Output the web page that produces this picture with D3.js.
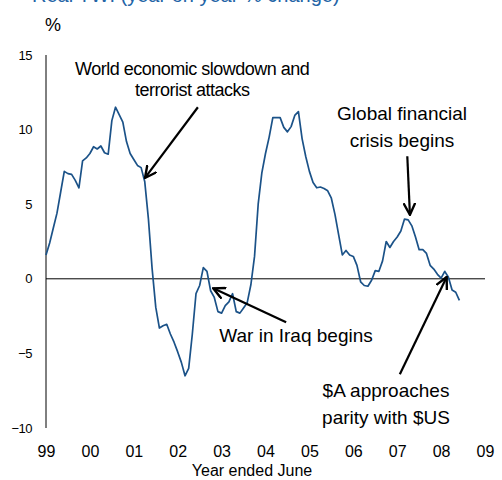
<!DOCTYPE html>
<html>
<head>
<meta charset="utf-8">
<script src="https://cdn.jsdelivr.net/npm/d3@7"></script>
<style>
  html, body { margin: 0; padding: 0; background: #fff; }
  svg { display: block; font-family: "Liberation Sans", Arial, sans-serif; }
</style>
</head>
<body>
<svg id="chart" width="502" height="480"></svg>
<script>
// ---- data ----
const titleText = "Real TWI (year on year % change)";
const unitLabel = "%";
const xAxisTitle = "Year ended June";
const startYear = 1999;             // first monthly observation: Jan 1999
const values = [
  1.6, 2.4, 3.4, 4.4, 5.8, 7.2, 7.05, 7.0, 6.6, 6.1,
  7.9, 8.1, 8.4, 8.85, 8.7, 8.9, 8.45, 8.35, 10.6, 11.5,
  11.0, 10.5, 9.2, 8.4, 8.0, 7.6, 7.45, 6.5, 4.0, 0.7,
  -1.9, -3.3, -3.15, -3.05, -3.7, -4.25, -4.9, -5.6, -6.5, -6.0,
  -3.7, -1.0, -0.45, 0.75, 0.5, -0.8, -1.25, -2.2, -2.3, -1.8,
  -1.55, -1.0, -2.2, -2.3, -1.95, -1.6, -0.4, 1.5, 5.0, 7.1,
  8.4, 9.5, 10.8, 10.8, 10.8, 10.15, 9.85, 10.2, 10.95, 11.2,
  9.4, 8.2, 7.2, 6.45, 6.1, 6.15, 6.05, 5.9, 5.4, 4.3,
  2.95, 1.6, 1.9, 1.6, 1.5, 0.9, -0.2, -0.45, -0.5, -0.1,
  0.55, 0.5, 1.2, 2.5, 2.1, 2.5, 2.8, 3.2, 4.0, 3.95,
  3.55, 2.8, 1.95, 1.95, 1.7, 0.9, 0.65, 0.3, 0.05, 0.5,
  0.1, -0.75, -0.9, -1.45
];
const xTickYears = [1999, 2000, 2001, 2002, 2003, 2004, 2005, 2006, 2007, 2008, 2009];
const xTickLabels = ["99", "00", "01", "02", "03", "04", "05", "06", "07", "08", "09"];
const yTicks = [-10, -5, 0, 5, 10, 15];

// annotations: text lines, label anchor (year, value), arrow tail & tip (year, value)
const annLines = [
  ["World economic slowdown and", "terrorist attacks"],
  ["Global financial", "crisis begins"],
  ["War in Iraq begins"],
  ["$A approaches", "parity with $US"]
];
const annLabelAt = [[2002.33, 13.63], [2007.11, 10.67], [2004.695, -4.24], [2006.745, -7.94]];
const annTail = [[2002.46, 11.5], [2007.23, 8.21], [2004.47, -2.92], [2007.06, -6.4]];
const annTip  = [[2001.255, 6.76], [2007.29, 4.29], [2002.81, -0.64], [2008.127, 0.12]];

// ---- chart ----
const svg = d3.select("#chart");
const x = d3.scaleLinear().domain([1999, 2009]).range([46, 485]);
const y = d3.scaleLinear().domain([-10, 15]).range([428, 55]);

const series = values.map((v, i) => ({ t: startYear + i / 12, v }));

// title (mostly cropped off at top, as in the reference)
svg.append("text")
  .attr("x", 32).attr("y", 2)
  .attr("fill", "#2364a6")
  .attr("font-size", 20)
  .text(titleText);

svg.append("text")
  .attr("x", 45).attr("y", 31)
  .attr("font-size", 18)
  .attr("fill", "#000")
  .text(unitLabel);

// y axis
const yAxis = svg.append("g")
  .attr("transform", `translate(${x.range()[0]},0)`)
  .call(d3.axisLeft(y).tickValues(yTicks).tickSize(0).tickPadding(14).tickFormat(d3.format("d")));
yAxis.select(".domain").remove();
yAxis.selectAll("text").attr("font-size", 13).attr("fill", "#000")
  .attr("font-family", "Liberation Sans, Arial, sans-serif").attr("letter-spacing", -0.5);
svg.append("line")
  .attr("x1", x.range()[0]).attr("x2", x.range()[0])
  .attr("y1", y(15)).attr("y2", y(-10))
  .attr("stroke", "#000").attr("stroke-width", 1);

// x axis labels
const xAxis = svg.append("g")
  .attr("transform", `translate(0,${y(-10)})`)
  .call(d3.axisBottom(x).tickValues(xTickYears).tickSize(0).tickPadding(18)
    .tickFormat((d, i) => xTickLabels[i]));
xAxis.select(".domain").remove();
xAxis.selectAll("text").attr("font-size", 16).attr("fill", "#000")
  .attr("font-family", "Liberation Sans, Arial, sans-serif");

svg.append("text")
  .attr("x", 252).attr("y", 476)
  .attr("text-anchor", "middle")
  .attr("font-size", 16)
  .text(xAxisTitle);

// zero line
svg.append("line")
  .attr("x1", x(1999)).attr("x2", x(2009))
  .attr("y1", y(0)).attr("y2", y(0))
  .attr("stroke", "#000").attr("stroke-width", 1);

// series line
svg.append("path")
  .datum(series)
  .attr("fill", "none")
  .attr("stroke", "#1b5288")
  .attr("stroke-width", 1.7)
  .attr("stroke-linejoin", "round")
  .attr("d", d3.line().x(d => x(d.t)).y(d => y(d.v)));

// arrow marker
svg.append("defs").append("marker")
  .attr("id", "arr")
  .attr("viewBox", "0 -6 12 12")
  .attr("refX", 11).attr("refY", 0)
  .attr("markerUnits", "userSpaceOnUse")
  .attr("markerWidth", 13).attr("markerHeight", 13)
  .attr("orient", "auto")
  .append("path")
  .attr("d", "M0,-5.5L11,0L0,5.5")
  .attr("fill", "none").attr("stroke", "#000").attr("stroke-width", 2.2);

annTail.forEach((t, i) => {
  svg.append("line")
    .attr("x1", x(t[0])).attr("y1", y(t[1]))
    .attr("x2", x(annTip[i][0])).attr("y2", y(annTip[i][1]))
    .attr("stroke", "#000").attr("stroke-width", 2.2)
    .attr("marker-end", "url(#arr)");
});

const annFont = [18, 19, 19, 19];
const annSpacing = [-0.5, 0, 0, 0];
const annLead = [20.5, 27, 27, 27];
annLines.forEach((lines, i) => {
  const t = svg.append("text")
    .attr("text-anchor", "middle")
    .attr("font-size", annFont[i])
    .attr("letter-spacing", annSpacing[i])
    .attr("fill", "#000");
  lines.forEach((s, j) => {
    t.append("tspan")
      .attr("x", x(annLabelAt[i][0]))
      .attr("y", y(annLabelAt[i][1]) + j * annLead[i])
      .text(s);
  });
});
</script>
</body>
</html>
